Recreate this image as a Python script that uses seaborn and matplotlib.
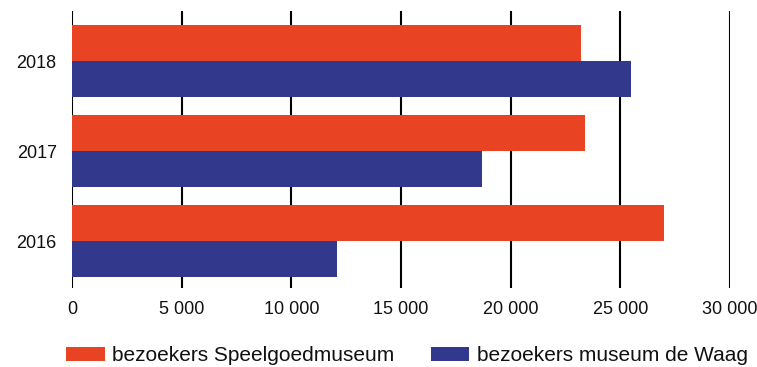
import numpy as np
import pandas as pd
import matplotlib.pyplot as plt
import seaborn as sns
from matplotlib.ticker import FuncFormatter

years = ["2018", "2017", "2016"]
speelgoed = [23200, 23400, 27000]
waag = [25500, 18700, 12100]
series = ["bezoekers Speelgoedmuseum", "bezoekers museum de Waag"]
colors = ["#E84424", "#32388C"]

df = pd.DataFrame({
    "jaar": years * 2,
    "bezoekers": speelgoed + waag,
    "serie": [series[0]] * 3 + [series[1]] * 3,
})

sns.set_theme(style="white")
plt.rcParams['font.family'] = ['Liberation Sans', 'DejaVu Sans']

fig = plt.figure(figsize=(7.57, 3.67), dpi=100)
ax = fig.add_axes([72 / 757, 1 - 288 / 367, 658 / 757, 277 / 367])
sns.barplot(data=df, y="jaar", x="bezoekers", hue="serie", orient="h",
            palette=colors, width=0.8, saturation=1, linewidth=0, ax=ax)

ax.set_xlim(0, 30000)
ax.set_ylim(2.52, -0.556)
ax.set_xticks(np.arange(0, 30001, 5000))
ax.xaxis.set_major_formatter(FuncFormatter(lambda v, p: f"{int(v):,}".replace(",", " ")))
ax.grid(axis="x", color="black", linewidth=1.5)
ax.set_axisbelow(True)
for s in ax.spines.values():
    s.set_visible(False)
ax.tick_params(axis="both", length=0, labelsize=13, colors="#111111")
ax.tick_params(axis="x", pad=9)
ax.tick_params(axis="y", pad=11)
ax.set_xlabel("")
ax.set_ylabel("")

handles, labels = ax.get_legend_handles_labels()
ax.legend_.remove()
fig.legend(handles, labels, loc="lower left", bbox_to_anchor=(58 / 757, -0.018),
           ncol=2, frameon=False, fontsize=15, handlelength=1.85, handleheight=0.7,
           handletextpad=0.35, columnspacing=1.75, borderaxespad=0.2, borderpad=0.2,
           labelcolor="#111111")

fig.savefig("out.png", dpi=100)
